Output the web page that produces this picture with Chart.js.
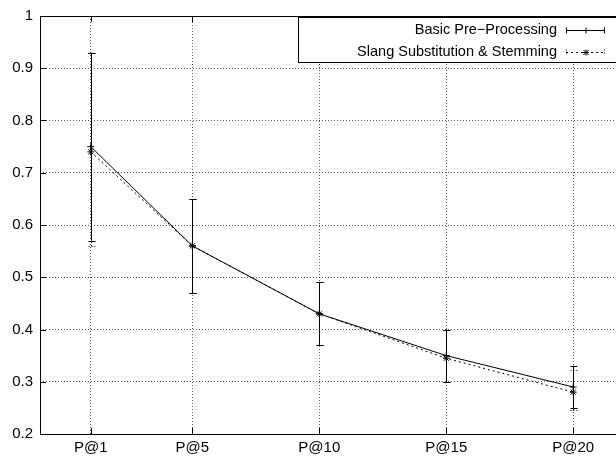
<!DOCTYPE html>
<html>
<head>
<meta charset="utf-8">
<script src="https://cdn.jsdelivr.net/npm/chart.js@4/dist/chart.umd.min.js"></script>
<style>
  html, body { margin: 0; padding: 0; background: #fff; overflow: hidden; }
  #wrap { width: 650px; height: 460px; position: relative; }
</style>
</head>
<body>
<div id="wrap"><canvas id="chart"></canvas></div>
<script>
// values
const xValues = [1, 5, 10, 15, 20];
const tickLabels = ["P@1", "P@5", "P@10", "P@15", "P@20"];

const basicLabel = "Basic Pre\u2212Processing";
const basicMean = [0.75, 0.56, 0.43, 0.35, 0.29];
const basicLow = [0.57, 0.47, 0.37, 0.30, 0.25];
const basicHigh = [0.93, 0.65, 0.49, 0.40, 0.33];

const slangLabel = "Slang Substitution & Stemming";
const slangMean = [0.74, 0.56, 0.43, 0.345, 0.28];
const slangLow = [0.56, 0.47, 0.37, 0.30, 0.245];
const slangHigh = [0.93, 0.65, 0.49, 0.40, 0.322];

const FONT = "'Liberation Sans', Arial, sans-serif";
const pts = arr => arr.map((y, i) => ({ x: xValues[i], y }));

const errorBars = {
    id: "errorBars",
    afterDatasetsDraw(chart) {
        const { ctx, scales: { x, y } } = chart;
        chart.data.datasets.forEach(ds => {
            ctx.save();
            ctx.strokeStyle = "#000";
            ctx.lineWidth = 1;
            ctx.setLineDash(ds.errDash);
            ds.low.forEach((lo, i) => {
                const px = Math.round(x.getPixelForValue(xValues[i])) + 0.5;
                const y1 = y.getPixelForValue(lo);
                const y2 = y.getPixelForValue(ds.high[i]);
                ctx.beginPath();
                ctx.moveTo(px, y1); ctx.lineTo(px, y2);
                ctx.moveTo(px - 3, Math.round(y1) + 0.5); ctx.lineTo(px + 4, Math.round(y1) + 0.5);
                ctx.moveTo(px - 3, Math.round(y2) + 0.5); ctx.lineTo(px + 4, Math.round(y2) + 0.5);
                ctx.stroke();
            });
            ctx.restore();
        });
    }
};

const frame = {
    id: "frame",
    afterDraw(chart) {
        const { ctx, chartArea: a, scales: { x, y } } = chart;
        ctx.save();
        ctx.strokeStyle = "#000";
        ctx.lineWidth = 1;
        ctx.setLineDash([]);
        // inward tick marks
        ctx.beginPath();
        xValues.forEach(v => {
            const px = Math.round(x.getPixelForValue(v)) + 0.5;
            ctx.moveTo(px, a.bottom); ctx.lineTo(px, a.bottom - 6);
            ctx.moveTo(px, a.top); ctx.lineTo(px, a.top + 6);
        });
        y.ticks.forEach(t => {
            const py = Math.round(y.getPixelForValue(t.value)) + 0.5;
            ctx.moveTo(a.left, py); ctx.lineTo(a.left + 6, py);
        });
        ctx.stroke();

        // legend box
        const bx = 298.5, by = 17.5, bw = 330, bh = 45;
        ctx.fillStyle = "#fff";
        ctx.fillRect(bx, by, bw, bh);
        ctx.strokeRect(bx, by, bw, bh);
        ctx.font = "14.5px " + FONT;
        ctx.fillStyle = "#000";
        ctx.textAlign = "right";
        ctx.textBaseline = "middle";
        const rows = [30, 52];
        chart.data.datasets.forEach((ds, i) => {
            const ry = rows[i] + 0.5;
            ctx.fillText(ds.label, 557, rows[i]);
            ctx.setLineDash(ds.borderDash);
            ctx.beginPath();
            ctx.moveTo(566, ry); ctx.lineTo(605, ry);
            ctx.stroke();
            ctx.setLineDash(ds.errDash);
            ctx.beginPath();
            ctx.moveTo(566.5, ry - 3); ctx.lineTo(566.5, ry + 3);
            ctx.moveTo(604.5, ry - 3); ctx.lineTo(604.5, ry + 3);
            ctx.stroke();
            ctx.setLineDash([]);
            ctx.beginPath();
            const cx = 586;
            ctx.moveTo(cx - 3, ry); ctx.lineTo(cx + 3, ry);
            ctx.moveTo(cx, ry - 3); ctx.lineTo(cx, ry + 3);
            if (ds.pointStyle === "star") {
                ctx.moveTo(cx - 2.5, ry - 2.5); ctx.lineTo(cx + 2.5, ry + 2.5);
                ctx.moveTo(cx - 2.5, ry + 2.5); ctx.lineTo(cx + 2.5, ry - 2.5);
            }
            ctx.stroke();
        });

        // border
        ctx.strokeRect(Math.round(a.left) + 0.5, Math.round(a.top) + 0.5,
            Math.round(a.right - a.left), Math.round(a.bottom - a.top));
        ctx.restore();
    }
};

new Chart(document.getElementById("chart"), {
    type: "line",
    data: {
        datasets: [
            {
                label: basicLabel,
                data: pts(basicMean),
                low: basicLow,
                high: basicHigh,
                errDash: [],
                borderColor: "#000",
                borderWidth: 1,
                borderDash: [],
                pointStyle: "cross",
                pointRadius: 3.5,
                pointBorderColor: "#000",
                pointBorderWidth: 1,
                tension: 0,
            },
            {
                label: slangLabel,
                data: pts(slangMean),
                low: slangLow,
                high: slangHigh,
                errDash: [1, 2],
                borderColor: "#000",
                borderWidth: 1,
                borderDash: [2, 3],
                pointStyle: "star",
                pointRadius: 3.5,
                pointBorderColor: "#000",
                pointBorderWidth: 1,
                tension: 0,
            }
        ]
    },
    options: {
        responsive: true,
        maintainAspectRatio: false,
        animation: false,
        events: [],
        layout: { padding: { left: 0, top: 12, right: 26, bottom: 0 } },
        plugins: { legend: { display: false }, tooltip: { enabled: false } },
        scales: {
            x: {
                type: "linear",
                min: -1,
                max: 22,
                afterBuildTicks: s => { s.ticks = xValues.map(v => ({ value: v })); },
                afterFit: s => { s.height = 26; },
                ticks: {
                    color: "#000",
                    font: { family: FONT, size: 15 },
                    padding: 5,
                    maxRotation: 0,
                    callback: (v) => tickLabels[xValues.indexOf(v)],
                },
                grid: { color: "#555", drawTicks: false },
                border: { display: false, dash: [1, 2] },
            },
            y: {
                min: 0.2,
                max: 1,
                afterFit: s => { s.width = 40; },
                ticks: {
                    stepSize: 0.1,
                    color: "#000",
                    font: { family: FONT, size: 15 },
                    padding: 7,
                    callback: v => String(+v.toFixed(1)),
                },
                grid: { color: "#555", drawTicks: false },
                border: { display: false, dash: [1, 2] },
            }
        }
    },
    plugins: [errorBars, frame]
});
</script>
</body>
</html>
